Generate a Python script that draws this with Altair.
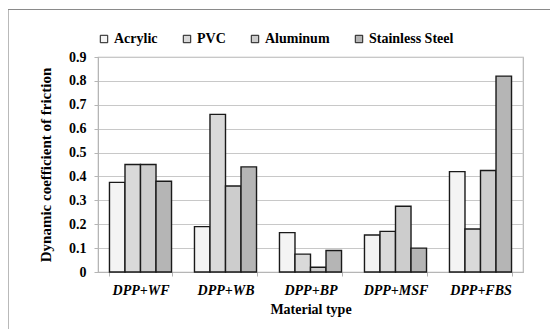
import altair as alt
import pandas as pd

materials = ["DPP+WF", "DPP+WB", "DPP+BP", "DPP+MSF", "DPP+FBS"]
surfaces = ["Acrylic", "PVC", "Aluminum", "Stainless Steel"]
acrylic = [0.375, 0.19, 0.165, 0.155, 0.42]
pvc = [0.45, 0.66, 0.075, 0.17, 0.18]
aluminum = [0.45, 0.36, 0.02, 0.275, 0.425]
stainless = [0.38, 0.44, 0.09, 0.10, 0.82]
y_ticks = [0, 0.1, 0.2, 0.3, 0.4, 0.5, 0.6, 0.7, 0.8, 0.9]
fills = ["#f4f4f4", "#d9d9d9", "#cdcdcd", "#b5b5b5"]

rows = []
for s, vals in zip(surfaces, [acrylic, pvc, aluminum, stainless]):
    for m, v in zip(materials, vals):
        rows.append({"material": m, "surface": s, "cof": v})
df = pd.DataFrame(rows)

FONT = "Liberation Serif"

frame = alt.Chart(pd.DataFrame({"a": [0]})).mark_rect(
    fillOpacity=0, stroke="#8a8a8a", strokeWidth=1.2
).encode(
    x=alt.value(-90), x2=alt.value(480), y=alt.value(-47.5), y2=alt.value(320)
)

bars = alt.Chart(df).mark_bar(stroke="#1a1a1a", strokeWidth=1.4).encode(
    x=alt.X(
        "material:N",
        sort=materials,
        scale=alt.Scale(paddingInner=0.27, paddingOuter=0.135),
        axis=alt.Axis(
            title="Material type",
            labelAngle=0,
            labelFontStyle="italic",
            tickBand="extent",
            grid=False,
            labelPadding=7,
            titlePadding=5,
        ),
    ),
    xOffset=alt.XOffset("surface:N", sort=surfaces, scale=alt.Scale(paddingInner=0, paddingOuter=0)),
    y=alt.Y(
        "cof:Q",
        scale=alt.Scale(domain=[0, 0.9]),
        axis=alt.Axis(
            title="Dynamic coefficient of friction",
            values=y_ticks,
            format=".1~f",
            labelPadding=8,
            titlePadding=15,
            titleFontSize=15,
        ),
    ),
    fill=alt.Fill(
        "surface:N",
        sort=surfaces,
        scale=alt.Scale(domain=surfaces, range=fills),
        legend=alt.Legend(
            title=None,
            orient="none",
            direction="horizontal",
            legendX=-1,
            legendY=-25,
            symbolType="square",
            symbolSize=55,
            symbolStrokeColor="#1a1a1a",
            symbolStrokeWidth=1,
            symbolOffset=0,
            columnPadding=22,
            labelOffset=3,
        ),
    ),
)

chart = alt.layer(frame, bars).properties(
    width=425,
    height=215,
    background="white",
    autosize=alt.AutoSizeParams(type="none"),
    padding={"left": 90, "top": 49, "right": 27, "bottom": 60},
).configure_view(
    stroke="#b5b5b5", strokeWidth=1.2
).configure_axis(
    labelFont=FONT,
    titleFont=FONT,
    labelFontSize=14,
    titleFontSize=14,
    labelFontWeight="bold",
    titleFontWeight="bold",
    labelColor="#000",
    titleColor="#000",
    domainColor="#b5b5b5",
    tickColor="#b5b5b5",
    gridColor="#c8c8c8",
    tickSize=4,
).configure_legend(
    labelFont=FONT,
    labelFontSize=14,
    labelFontWeight="bold",
    labelColor="#000",
)

chart.save("out.html", embed_options={"renderer": "svg", "actions": False})
